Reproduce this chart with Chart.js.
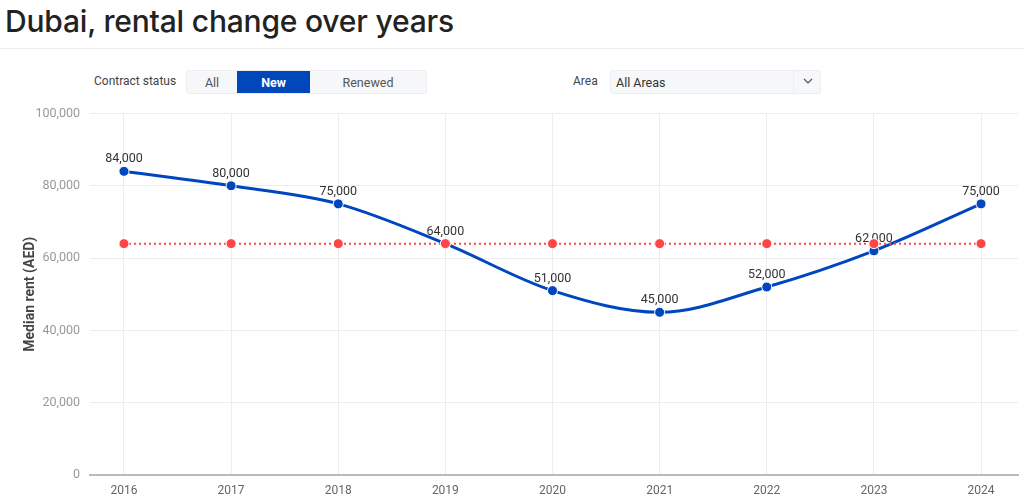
<!DOCTYPE html>
<html>
<head>
<meta charset="utf-8">
<script src="https://cdn.jsdelivr.net/npm/chart.js@4"></script>
<style>
  body { margin: 0; width: 1024px; height: 498px; overflow: hidden; background: #fff; font-family: Roboto, "Noto Sans", sans-serif; }
  h1 { position: absolute; left: 5px; top: 3px; margin: 0; font-family: Inter, "Noto Sans", sans-serif; font-size: 30px; font-weight: 500; color: #222; letter-spacing: -0.2px; }
  .rule { position: absolute; left: 0; top: 48px; width: 1024px; height: 1px; background: #eee; }
  .lbl { position: absolute; top: 74px; font-size: 12px; color: #444; }
  .seg { position: absolute; left: 186px; top: 70px; height: 22px; display: flex; border: 1px solid #eceef2; border-radius: 3px; background: #f6f7f9; font-size: 12.5px; }
  .seg div { display: flex; align-items: center; justify-content: center; color: #555; }
  .seg .on { background: #0047bb; color: #fff; font-weight: 700; }
  .sel { position: absolute; left: 610px; top: 70px; width: 209px; height: 22px; border: 1px solid #eceef2; border-radius: 3px; background: #f6f7f9; font-size: 12.5px; color: #333; }
  .sel span { position: absolute; left: 5px; top: 4px; }
  .sel i { position: absolute; left: 182px; top: 0; width: 1px; height: 22px; background: #eceef2; }
  .sel svg { position: absolute; left: 192px; top: 7px; }
  #wrap { position: absolute; left: 0; top: 96px; width: 1024px; height: 403px; }
</style>
</head>
<body>
<h1>Dubai, rental change over years</h1>
<div class="rule"></div>
<div class="lbl" style="left:94px">Contract status</div>
<div class="seg">
  <div style="width:50px">All</div>
  <div class="on" style="width:73px">New</div>
  <div style="width:116px">Renewed</div>
</div>
<div class="lbl" style="left:573px">Area</div>
<div class="sel"><span>All Areas</span><i></i>
  <svg width="10" height="7" viewBox="0 0 10 7"><path d="M1 1 L5 5 L9 1" fill="none" stroke="#555" stroke-width="1.2"/></svg>
</div>
<div id="wrap"><canvas id="chart"></canvas></div>
<script>
// chart values
var years = [2016, 2017, 2018, 2019, 2020, 2021, 2022, 2023, 2024];
var newRent = [84000, 80000, 75000, 64000, 51000, 45000, 52000, 62000, 75000];
var benchmarkRent = [64000, 64000, 64000, 64000, 64000, 64000, 64000, 64000, 64000];
var yTicks = [0, 20000, 40000, 60000, 80000, 100000];

var FONT = 'Roboto, "Noto Sans", sans-serif';

function pts(vals) {
  return vals.map((v, i) => ({x: years[i], y: v}));
}

// value labels over the blue points (drawn before the red series so red sits on top)
var valueLabels = {
  id: 'valueLabels',
  afterDatasetDraw(chart, args) {
    if (args.index !== 1) return;
    var ctx = chart.ctx;
    ctx.save();
    ctx.font = '12.5px ' + FONT;
    ctx.fillStyle = '#333';
    ctx.textAlign = 'center';
    ctx.textBaseline = 'middle';
    args.meta.data.forEach((p, i) => {
      ctx.fillText(newRent[i].toLocaleString('en-US'), p.x, p.y - 12);
    });
    ctx.restore();
  }
};

var chart = new Chart(document.getElementById('chart'), {
  type: 'line',
  data: {
    datasets: [
      {
        label: 'Benchmark',
        data: pts(benchmarkRent),
        borderColor: '#ff4545',
        borderWidth: 2,
        borderDash: [2, 3],
        pointRadius: 5,
        pointBackgroundColor: '#ff4545',
        pointBorderColor: '#fff',
        pointBorderWidth: 1
      },
      {
        label: 'New',
        data: pts(newRent),
        borderColor: '#0047bf',
        borderWidth: 3,
        cubicInterpolationMode: 'monotone',
        pointRadius: 5,
        pointBackgroundColor: '#0047bf',
        pointBorderColor: '#fff',
        pointBorderWidth: 1
      }
    ]
  },
  options: {
    responsive: true,
    maintainAspectRatio: false,
    animation: false,
    layout: { padding: { top: 9, right: 4, left: 22 } },
    plugins: { legend: { display: false }, tooltip: { enabled: false } },
    scales: {
      x: {
        type: 'linear',
        min: 2015.683,
        max: 2024.345,
        afterBuildTicks: s => { s.ticks = years.map(v => ({value: v})); },
        afterFit: s => { s.height = 24; },
        ticks: {
          callback: v => String(v),
          color: '#666',
          font: { size: 12, family: FONT },
          padding: 9
        },
        grid: { color: '#ececf2', drawTicks: false },
        border: { color: '#bbb', width: 2 }
      },
      y: {
        min: 0,
        max: 100000,
        afterBuildTicks: s => { s.ticks = yTicks.map(v => ({value: v})); },
        afterFit: s => { s.width = 68; },
        ticks: {
          callback: v => v.toLocaleString('en-US'),
          color: '#999',
          font: { size: 12.5, family: FONT },
          padding: 10
        },
        grid: { color: '#ececf2', drawTicks: false },
        border: { display: false },
        title: {
          display: true,
          text: 'Median rent (AED)',
          color: '#444',
          padding: 0,
          font: { size: 14, weight: 'bold', family: FONT }
        }
      }
    }
  },
  plugins: [valueLabels]
});
</script>
</body>
</html>
